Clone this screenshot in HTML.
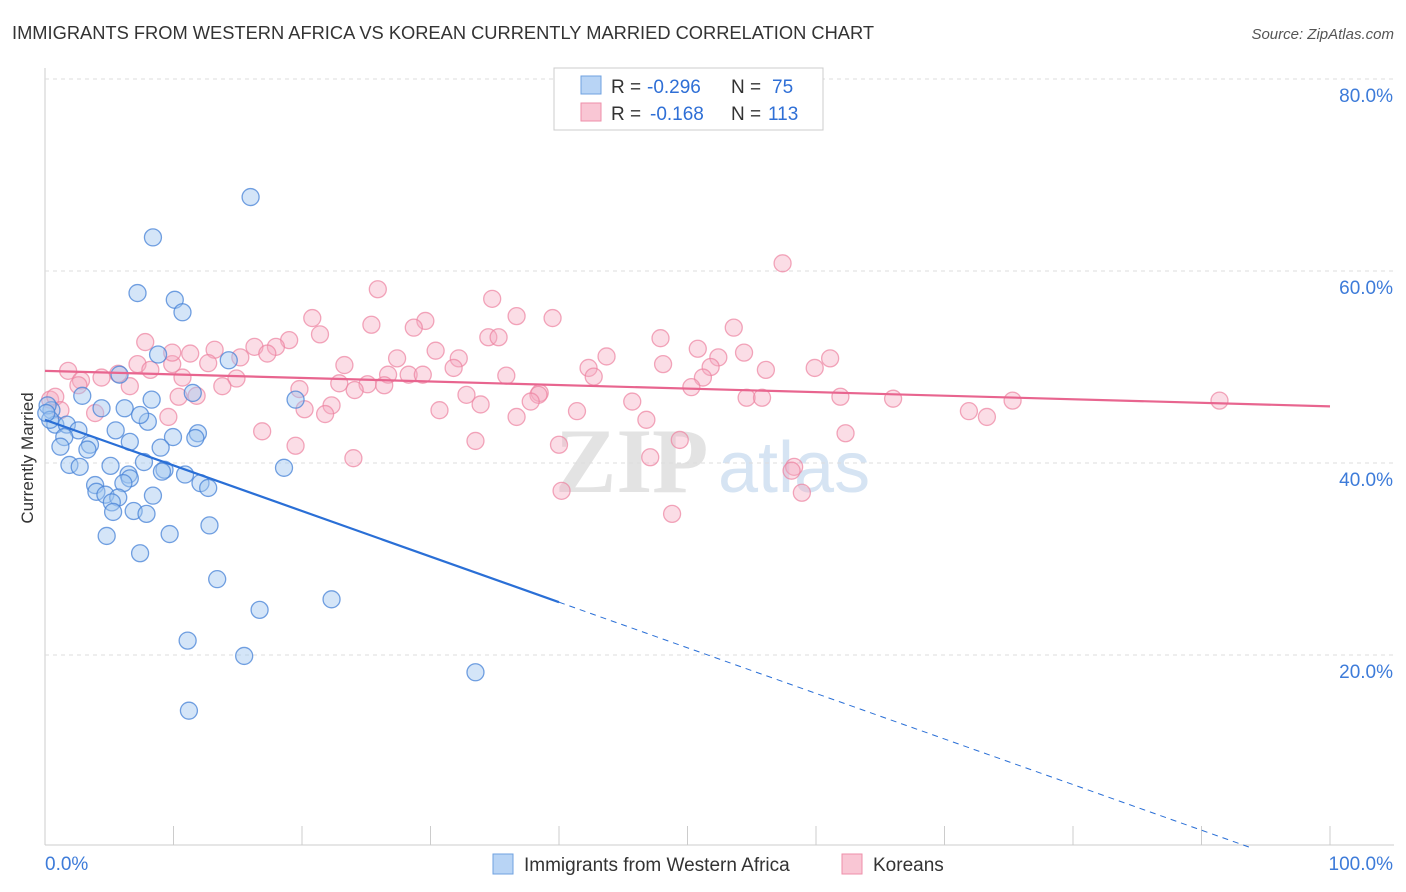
<!DOCTYPE html>
<html><head><meta charset="utf-8"><style>
body{margin:0;background:#fff;font-family:"Liberation Sans",sans-serif}
svg{display:block}
</style></head><body>
<svg id="chart" width="1406" height="892" xmlns="http://www.w3.org/2000/svg" font-family="Liberation Sans, sans-serif">
<text x="12" y="39" font-size="18.3" fill="#333">IMMIGRANTS FROM WESTERN AFRICA VS KOREAN CURRENTLY MARRIED CORRELATION CHART</text>
<text x="1394" y="39" font-size="15" fill="#555" text-anchor="end" font-style="italic">Source: ZipAtlas.com</text>
<text x="555" y="492" font-size="92" fill="#e3e3e3" font-family="Liberation Serif, serif" font-weight="bold">ZIP</text>
<text x="718" y="492" font-size="72" fill="#d6e4f3">atlas</text>
<g id="grid"></g>
<g id="pts"></g>
<g id="trend"></g>
<text transform="translate(33,458) rotate(-90)" font-size="17" fill="#333" text-anchor="middle">Currently Married</text>
<g>
<rect x="554" y="68" width="269" height="62" fill="#fff" stroke="#ccc"/>
<rect x="581" y="76" width="20" height="18" fill="#b8d4f5" stroke="#6fa2e0"/>
<rect x="581" y="103" width="20" height="18" fill="#f9c6d4" stroke="#ee8faa"/>
<text x="611" y="93" font-size="19" fill="#333">R =</text>
<text x="647" y="93" font-size="19" fill="#2f6fd6">-0.296</text>
<text x="731" y="93" font-size="19" fill="#333">N =</text>
<text x="772" y="93" font-size="19" fill="#2f6fd6">75</text>
<text x="611" y="120" font-size="19" fill="#333">R =</text>
<text x="650" y="120" font-size="19" fill="#2f6fd6">-0.168</text>
<text x="731" y="120" font-size="19" fill="#333">N =</text>
<text x="768" y="120" font-size="19" fill="#2f6fd6">113</text>
</g>
<g>
<rect x="493" y="854" width="20" height="20" fill="#b8d4f5" stroke="#6fa2e0"/>
<text x="524" y="871" font-size="19" fill="#333">Immigrants from Western Africa</text>
<rect x="842" y="854" width="20" height="20" fill="#f9c6d4" stroke="#ee8faa"/>
<text x="873" y="871" font-size="19" fill="#333">Koreans</text>
</g>
</svg>
<script>
const yTicks=[20,40,60,80];
const yTickLabels=["20.0%","40.0%","60.0%","80.0%"];
const xTickLabels=["0.0%","100.0%"];
const blueX=[16.0,8.4,7.2,10.1,10.7,8.8,14.3,5.8,11.5,8.3,19.5,2.9,6.2,4.4,0.5,0.2,0.8,8.0,7.4,1.7,2.6,5.5,11.9,11.7,9.96,1.5,3.5,6.6,1.2,3.3,9.0,7.7,1.9,2.7,5.1,9.3,9.1,10.9,18.6,6.5,6.6,12.1,12.7,6.1,3.9,4.0,4.7,5.7,8.4,5.2,6.9,7.9,5.3,12.8,4.8,9.7,7.4,13.4,16.7,22.3,11.1,15.5,33.5,11.2,0.4,0.1];
const blueY=[67.7,63.5,57.7,57.0,55.7,51.3,50.7,49.2,47.3,46.6,46.6,47.0,45.7,45.7,45.5,46.0,44.0,44.3,45.0,44.0,43.4,43.4,43.1,42.6,42.7,42.7,41.9,42.2,41.7,41.4,41.6,40.1,39.8,39.6,39.7,39.3,39.1,38.8,39.5,38.8,38.4,37.9,37.4,37.9,37.7,37.0,36.7,36.4,36.6,35.9,35.0,34.7,34.9,33.5,32.4,32.6,30.6,27.9,24.7,25.8,21.5,19.9,18.2,14.2,44.5,45.2];
const pinkX=[57.4,25.9,34.8,20.8,36.7,39.5,25.4,29.6,28.7,21.4,34.5,35.3,53.6,47.9,7.8,19.0,16.3,13.2,17.97,30.4,50.8,54.4,43.7,11.3,17.3,15.2,27.4,32.2,61.1,52.4,9.9,12.7,23.3,31.8,51.8,48.1,59.9,42.3,56.1,7.2,1.8,8.2,5.7,26.7,28.3,29.4,35.9,42.7,10.7,14.9,2.8,4.4,6.6,51.2,22.9,25.1,26.4,13.8,19.8,24.1,50.3,38.5,32.8,38.4,10.4,11.8,54.6,55.8,61.9,66.0,75.3,91.4,45.7,37.8,33.9,22.3,20.2,41.4,71.9,30.7,3.9,21.8,36.7,73.3,46.8,9.6,0.4,0.8,1.2,16.9,62.3,49.4,33.5,19.5,40.0,24.0,47.1,58.3,58.1,40.2,58.9,48.8,9.9,2.6];
const pinkY=[60.8,58.1,57.1,55.1,55.3,55.1,54.4,54.8,54.1,53.4,53.1,53.1,54.1,53.0,52.6,52.8,52.1,51.8,52.1,51.7,51.9,51.5,51.1,51.4,51.4,51.0,50.9,50.9,50.9,51.0,50.3,50.4,50.2,49.9,50.0,50.3,49.9,49.9,49.7,50.3,49.6,49.7,49.3,49.2,49.2,49.2,49.1,49.0,48.9,48.8,48.6,48.9,48.0,48.9,48.3,48.2,48.1,48.0,47.7,47.6,47.9,47.3,47.1,47.1,46.9,47.0,46.8,46.8,46.9,46.7,46.5,46.5,46.4,46.4,46.1,46.0,45.6,45.4,45.4,45.5,45.2,45.1,44.8,44.8,44.5,44.8,46.6,46.9,45.5,43.3,43.1,42.4,42.3,41.8,41.9,40.5,40.6,39.6,39.2,37.1,36.9,34.7,51.5,48.1];
const blueTrend=[44.5,-0.475];
const pinkTrend=[49.6,-0.037];
const X=v=>45+v*12.85, Y=v=>847-v*9.6;
const NS='http://www.w3.org/2000/svg';
function mk(tag,attrs,parent){const e=document.createElementNS(NS,tag);for(const k in attrs)e.setAttribute(k,attrs[k]);parent.appendChild(e);return e;}
const grid=document.getElementById('grid');
let a=mk('line',{x1:45,y1:68,x2:45,y2:845,stroke:'#ccc'},grid);


a=mk('line',{x1:45,y1:845,x2:1394,y2:845,stroke:'#ccc'},grid);


yTicks.forEach((t,i)=>{
 const g=mk('line',{x1:45,y1:Y(t),x2:1394,y2:Y(t),stroke:'#ddd','stroke-dasharray':'4,4'},grid);
 
 
 const l=mk('text',{x:1393,y:Y(t)+23,'font-size':19,fill:'#3d7bd9','text-anchor':'end'},grid);
 l.textContent=yTickLabels[i];
 
 
});
for(let i=0;i<=10;i++){
 const t=mk('line',{x1:X(i*10),y1:826,x2:X(i*10),y2:845,stroke:'#ccc'},grid);
 
 
}
[[0,45,'start'],[100,1393,'end']].forEach((d,i)=>{
 const l=mk('text',{x:d[1],y:870,'font-size':19,fill:'#3d7bd9','text-anchor':d[2]},grid);
 l.textContent=xTickLabels[i];
 
 
});
const pts=document.getElementById('pts');
pinkX.forEach((x,i)=>{
 const c=mk('circle',{cx:X(x),cy:Y(pinkY[i]),r:8.5,fill:'rgba(246,170,192,0.4)',stroke:'rgba(236,130,160,0.7)','stroke-width':1.3},pts);
 
 
});
blueX.forEach((x,i)=>{
 const c=mk('circle',{cx:X(x),cy:Y(blueY[i]),r:8.5,fill:'rgba(160,198,240,0.45)',stroke:'rgba(70,130,215,0.75)','stroke-width':1.3},pts);
 
 
});
const tr=document.getElementById('trend');
const by=x=>blueTrend[0]+blueTrend[1]*x;
let l1=mk('line',{x1:X(0),y1:Y(by(0)),x2:X(40),y2:Y(by(40)),stroke:'#2a6fd6','stroke-width':2.2},tr);


const xEnd=-blueTrend[0]/blueTrend[1];
let l2=mk('line',{x1:X(40),y1:Y(by(40)),x2:X(xEnd),y2:Y(0),stroke:'#2a6fd6','stroke-width':1,'stroke-dasharray':'6,5'},tr);


const py=x=>pinkTrend[0]+pinkTrend[1]*x;
let l3=mk('line',{x1:X(0),y1:Y(py(0)),x2:X(100),y2:Y(py(100)),stroke:'#e8658f','stroke-width':2.2},tr);


</script>
</body></html>
